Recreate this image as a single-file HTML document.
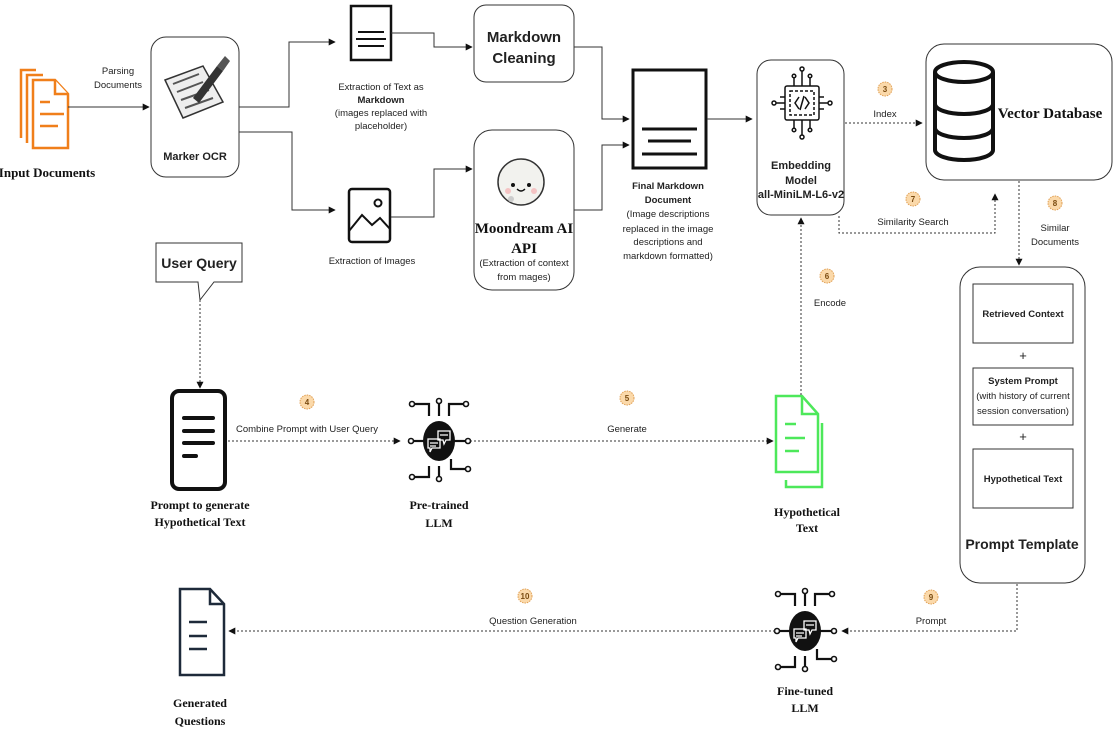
<!DOCTYPE html>
<html><head><meta charset="utf-8"><style>
html,body{margin:0;padding:0;background:#fff;}
svg{display:block;font-family:"Liberation Sans",sans-serif;}
.l{font-size:9.5px;fill:#222;text-anchor:middle;}
.b{font-weight:bold;}
.s{font-family:"Liberation Serif",serif;font-weight:bold;font-size:13px;fill:#111;text-anchor:middle;}
.dash{stroke:#333;stroke-width:1;stroke-dasharray:2 2;fill:none;}
.ln{stroke:#333;stroke-width:1;fill:none;}
.bd{fill:#fbd9aa;stroke:#e0a055;stroke-width:1;stroke-dasharray:1.5 1;}
.bt{font-size:8px;font-weight:bold;fill:#7a4b10;text-anchor:middle;}
</style></head><body>
<svg width="1114" height="730" viewBox="0 0 1114 730" xmlns="http://www.w3.org/2000/svg">
<defs>
<marker id="a" viewBox="0 0 10 10" refX="9" refY="5" markerWidth="7" markerHeight="7" orient="auto"><path d="M0,0 L10,5 L0,10 z" fill="#111"/></marker>
<g id="llm">
<g stroke="#111" stroke-width="2.2" fill="none">
<path d="M-10,-25 V-37 H-26"/><path d="M0,-25 V-38"/><path d="M10,-25 V-37 H26"/>
<path d="M-15,0 H-26"/><path d="M15,0 H28"/>
<path d="M-10,25 V36 H-26"/><path d="M0,25 V36"/><path d="M12,18 V28 H28"/>
</g>
<g fill="#fff" stroke="#111" stroke-width="1.6">
<circle cx="-27" cy="-37" r="2.5"/><circle cx="0" cy="-40" r="2.5"/><circle cx="27" cy="-37" r="2.5"/>
<circle cx="-28" cy="0" r="2.5"/><circle cx="29" cy="0" r="2.5"/>
<circle cx="-27" cy="36" r="2.5"/><circle cx="0" cy="38" r="2.5"/><circle cx="29" cy="28" r="2.5"/>
</g>
<ellipse cx="0" cy="0" rx="16" ry="20" fill="#111"/>
<g fill="none" stroke="#fff" stroke-width="1.3">
<path d="M-1,-10 h12 v9 h-4 l-2,4 l-1,-4 h-5 z"/><path d="M-11,-2 h12 v9 h-8 l-2,4 v-4 h-2 z"/>
<path d="M1,-6 h8 M-9,2 h8 M-9,5 h6"/>
</g>
</g>
</defs>

<g stroke="#f07f1a" stroke-width="2.5" fill="#fff">
<path d="M21,138 V70 H36"/><path d="M27,143 V75 H43"/>
<path d="M33,148 V80 H55 L68,94 V148 Z"/><path d="M55,80 V94 H68"/>
</g>
<g stroke="#f07f1a" stroke-width="2.5"><path d="M40,102 H50 M40,114 H64 M40,126 H58"/></g>
<text x="47" y="177" class="s" style="font-size:13px">Input Documents</text>
<line x1="68" y1="107" x2="149" y2="107" class="ln" marker-end="url(#a)"/>
<text x="118" y="74" class="l">Parsing</text><text x="118" y="88" class="l">Documents</text>

<rect x="151" y="37" width="88" height="140" rx="15" fill="#fff" stroke="#333"/>
<g transform="translate(195,88)">
<path d="M-30,-8 L8,-22 L28,14 L-12,30 Z" fill="#eee" stroke="#333" stroke-width="1.5"/>
<g stroke="#555" stroke-width="2"><path d="M-22,-4 L4,-14 M-18,4 L8,-6 M-14,12 L14,2 M-10,20 L18,10"/></g>
<path d="M-2,10 L22,-22 L28,-17 L4,15 Z" fill="#333"/>
<path d="M22,-22 L30,-32 L35,-27 L28,-17 Z" fill="#555"/>
</g>
<text x="195" y="160" class="l b" style="font-size:11px">Marker OCR</text>

<path d="M239,107 H289 V42 H335" class="ln" marker-end="url(#a)"/>
<path d="M239,132 H292 V210 H335" class="ln" marker-end="url(#a)"/>

<rect x="351" y="6" width="40" height="54" fill="#fff" stroke="#111" stroke-width="2.5"/>
<path d="M358,32 H384 M356,39 H386 M358,46 H384" stroke="#111" stroke-width="2"/>
<text x="381" y="90" class="l">Extraction of Text as</text>
<text x="381" y="103" class="l b">Markdown</text>
<text x="381" y="116" class="l">(images replaced with</text>
<text x="381" y="129" class="l">placeholder)</text>

<rect x="349" y="189" width="41" height="53" rx="3" fill="#fff" stroke="#111" stroke-width="2.5"/>
<path d="M349,231 L362,215 L372,225 L380,218 L390,229" fill="none" stroke="#111" stroke-width="2"/>
<circle cx="378" cy="203" r="3.5" fill="none" stroke="#111" stroke-width="2"/>
<text x="372" y="264" class="l">Extraction of Images</text>

<path d="M391,33 H434 V47 H472" class="ln" marker-end="url(#a)"/>
<path d="M391,217 H434 V169 H472" class="ln" marker-end="url(#a)"/>

<rect x="474" y="5" width="100" height="77" rx="12" fill="#fff" stroke="#333"/>
<text x="524" y="42" class="l b" style="font-size:15px">Markdown</text>
<text x="524" y="63" class="l b" style="font-size:15px">Cleaning</text>

<rect x="474" y="130" width="100" height="160" rx="18" fill="#fff" stroke="#333"/>
<circle cx="521" cy="182" r="23" fill="#f2f2ee" stroke="#333" stroke-width="1.5"/>
<circle cx="513" cy="185" r="2" fill="#111"/><circle cx="529" cy="185" r="2" fill="#111"/>
<path d="M517,189 q4,4 8,0" fill="none" stroke="#111" stroke-width="1.3"/>
<circle cx="508" cy="191" r="3" fill="#f4c3c3"/><circle cx="534" cy="191" r="3" fill="#f4c3c3"/>
<circle cx="511" cy="199" r="3" fill="#ccc"/>
<text x="524" y="233" class="s" style="font-size:15px">Moondream AI</text>
<text x="524" y="253" class="s" style="font-size:15px">API</text>
<text x="524" y="266" class="l">(Extraction of context</text>
<text x="524" y="280" class="l">from mages)</text>

<path d="M574,47 H602 V119 H629" class="ln" marker-end="url(#a)"/>
<path d="M574,210 H602 V145 H629" class="ln" marker-end="url(#a)"/>

<rect x="633" y="70" width="73" height="98" fill="#fff" stroke="#111" stroke-width="3"/>
<path d="M642,129 H697 M648,141 H691 M642,154 H697" stroke="#111" stroke-width="3"/>
<text x="668" y="189" class="l b">Final Markdown</text>
<text x="668" y="203" class="l b">Document</text>
<text x="668" y="217" class="l">(Image descriptions</text>
<text x="668" y="232" class="l">replaced in the image</text>
<text x="668" y="245" class="l">descriptions and</text>
<text x="668" y="259" class="l">markdown formatted)</text>
<line x1="707" y1="119" x2="752" y2="119" class="ln" marker-end="url(#a)"/>

<rect x="757" y="60" width="87" height="155" rx="14" fill="#fff" stroke="#333"/>
<g transform="translate(802,103)" stroke="#111" fill="none" stroke-width="1.5">
<rect x="-17" y="-17" width="34" height="34" rx="2"/>
<rect x="-12" y="-12" width="24" height="24" stroke-dasharray="3 2"/>
<path d="M-3,-6 L-7,0 L-3,6 M3,-6 L7,0 L3,6 M2,-7 L-2,7"/>
<path d="M-8,-17 V-25 M0,-17 V-32 M8,-17 V-25 M-8,17 V25 M0,17 V32 M8,17 V25 M-17,-6 H-22 M-17,0 H-26 M-17,6 H-22 M17,-6 H22 M17,0 H26 M17,6 H22"/>
<circle cx="0" cy="-34" r="2"/><circle cx="0" cy="34" r="2"/><circle cx="-28" cy="0" r="2"/><circle cx="28" cy="0" r="2"/>
<circle cx="-8" cy="-27" r="1.8"/><circle cx="8" cy="-27" r="1.8"/><circle cx="-8" cy="27" r="1.8"/><circle cx="8" cy="27" r="1.8"/>
</g>
<text x="801" y="169" class="l b" style="font-size:11px">Embedding</text>
<text x="801" y="184" class="l b" style="font-size:11px">Model</text>
<text x="801" y="198" class="l b" style="font-size:11px">all-MiniLM-L6-v2</text>

<line x1="845" y1="123" x2="922" y2="123" class="dash" marker-end="url(#a)"/>
<circle cx="885" cy="89" r="7" class="bd"/><text x="885" y="92" class="bt">3</text>
<text x="885" y="117" class="l">Index</text>

<rect x="926" y="44" width="186" height="136" rx="18" fill="#fff" stroke="#333"/>
<g stroke="#111" stroke-width="4" fill="#fff">
<path d="M935,72 V150 A29,10 0 0 0 993,150 V72"/>
<ellipse cx="964" cy="72" rx="29" ry="10"/>
<path d="M935,104 A29,10 0 0 0 993,104 M935,128 A29,10 0 0 0 993,128" fill="none"/>
</g>
<text x="1050" y="118" class="s" style="font-size:15px">Vector Database</text>

<path d="M839,216 V233 H995 V194" class="dash" marker-end="url(#a)"/>
<circle cx="913" cy="199" r="7" class="bd"/><text x="913" y="202" class="bt">7</text>
<text x="913" y="225" class="l">Similarity Search</text>

<line x1="1019" y1="181" x2="1019" y2="265" class="dash" marker-end="url(#a)"/>
<circle cx="1055" cy="203" r="7" class="bd"/><text x="1055" y="206" class="bt">8</text>
<text x="1055" y="231" class="l">Similar</text><text x="1055" y="245" class="l">Documents</text>

<rect x="960" y="267" width="125" height="316" rx="20" fill="#fff" stroke="#333"/>
<rect x="973" y="284" width="100" height="59" fill="#fff" stroke="#333"/>
<text x="1023" y="317" class="l b">Retrieved Context</text>
<text x="1023" y="360" class="l" style="font-size:13px">+</text>
<rect x="973" y="368" width="100" height="57" fill="#fff" stroke="#333"/>
<text x="1023" y="384" class="l b">System Prompt</text>
<text x="1023" y="399" class="l">(with history of current</text>
<text x="1023" y="414" class="l">session conversation)</text>
<text x="1023" y="441" class="l" style="font-size:13px">+</text>
<rect x="973" y="449" width="100" height="59" fill="#fff" stroke="#333"/>
<text x="1023" y="482" class="l b">Hypothetical Text</text>
<text x="1022" y="549" class="l b" style="font-size:14px">Prompt Template</text>

<path d="M1017,584 V631 H842" class="dash" marker-end="url(#a)"/>
<circle cx="931" cy="597" r="7" class="bd"/><text x="931" y="600" class="bt">9</text>
<text x="931" y="624" class="l">Prompt</text>

<use href="#llm" x="805" y="631"/>
<text x="805" y="695" class="s" style="font-size:12px">Fine-tuned</text>
<text x="805" y="712" class="s" style="font-size:12px">LLM</text>

<line x1="775" y1="631" x2="229" y2="631" class="dash" marker-end="url(#a)"/>
<circle cx="525" cy="596" r="7" class="bd"/><text x="525" y="599" class="bt">10</text>
<text x="533" y="624" class="l">Question Generation</text>

<path d="M180,589 H210 L224,604 V675 H180 Z" fill="#fff" stroke="#1e2a3a" stroke-width="2.5"/>
<path d="M210,589 V604 H224" fill="none" stroke="#1e2a3a" stroke-width="2.5"/>
<path d="M189,622 H207 M189,636 H207 M189,649 H207" stroke="#1e2a3a" stroke-width="2.5"/>
<text x="200" y="707" class="s" style="font-size:12px">Generated</text>
<text x="200" y="725" class="s" style="font-size:12px">Questions</text>

<path d="M156,243 H242 V282 H214 L200,300 L198,282 H156 Z" fill="#fff" stroke="#333"/>
<text x="199" y="268" class="l b" style="font-size:14px">User Query</text>
<line x1="200" y1="300" x2="200" y2="388" class="dash" marker-end="url(#a)"/>

<rect x="172" y="391" width="53" height="98" rx="7" fill="#fff" stroke="#111" stroke-width="4"/>
<path d="M184,418 H213 M184,431 H213 M184,443 H213 M184,456 H196" stroke="#111" stroke-width="4" stroke-linecap="round"/>
<text x="200" y="509" class="s" style="font-size:12px">Prompt to generate</text>
<text x="200" y="526" class="s" style="font-size:12px">Hypothetical Text</text>

<line x1="228" y1="441" x2="400" y2="441" class="dash" marker-end="url(#a)"/>
<circle cx="307" cy="402" r="7" class="bd"/><text x="307" y="405" class="bt">4</text>
<text x="307" y="432" class="l">Combine Prompt with User Query</text>

<use href="#llm" x="439" y="441"/>
<text x="439" y="509" class="s" style="font-size:12px">Pre-trained</text>
<text x="439" y="527" class="s" style="font-size:12px">LLM</text>

<line x1="470" y1="441" x2="773" y2="441" class="dash" marker-end="url(#a)"/>
<circle cx="627" cy="398" r="7" class="bd"/><text x="627" y="401" class="bt">5</text>
<text x="627" y="432" class="l">Generate</text>

<g stroke="#4de85a" stroke-width="2.5" fill="#fff">
<path d="M822,423 V487 H786 V480"/>
<path d="M776,396 H802 L818,414 V472 H776 Z"/>
<path d="M802,396 V414 H818" fill="none"/>
</g>
<path d="M785,424 H796 M785,438 H805 M785,451 H799" stroke="#4de85a" stroke-width="2.5"/>
<text x="807" y="516" class="s" style="font-size:12px">Hypothetical</text>
<text x="807" y="532" class="s" style="font-size:12px">Text</text>

<line x1="801" y1="395" x2="801" y2="218" class="dash" marker-end="url(#a)"/>
<circle cx="827" cy="276" r="7" class="bd"/><text x="827" y="279" class="bt">6</text>
<text x="830" y="306" class="l">Encode</text>
</svg>
</body></html>
